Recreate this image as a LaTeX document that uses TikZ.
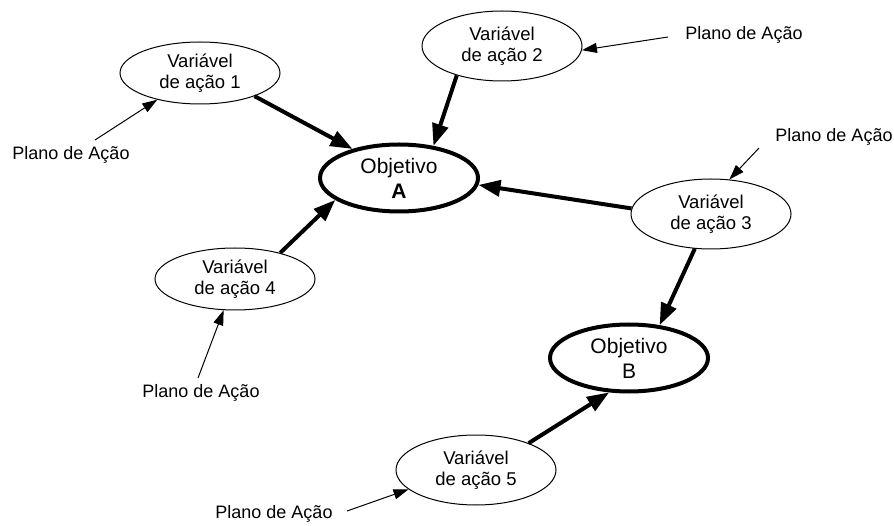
\documentclass[tikz,border=0pt]{standalone}
\usepackage{fontspec}
\setmainfont{Liberation Sans}
\usetikzlibrary{arrows.meta, shapes.geometric}

\begin{document}
\begin{tikzpicture}[x=1pt, y=-1pt,
variavel/.style={ellipse, draw, line width=1pt, minimum width=160pt, minimum height=70pt,
  inner sep=0pt, align=center, font=\fontsize{18.5}{21}\selectfont},
objetivo/.style={ellipse, draw, line width=4pt, minimum width=158pt, minimum height=67pt,
  inner sep=0pt, align=center, font=\fontsize{21}{25}\selectfont},
plano/.style={inner sep=0pt, font=\fontsize{18}{21}\selectfont},
fraca/.style={-{Triangle[length=15pt, width=10pt]}, line width=1pt},
forte/.style={-{Triangle[length=22pt, width=16pt]}, line width=4pt}]
\useasboundingbox (0,0) rectangle (894,526);

% objetivos
\node[objetivo] (objA) at (399,178) {Objetivo\\\textbf{A}};
\node[objetivo] (objB) at (629,358) {Objetivo\\B};

% variaveis de acao
\node[variavel, minimum height=62pt] (var1) at (200,73) {Variável\\de ação 1};
\node[variavel] (var2) at (502,46) {Variável\\de ação 2};
\node[variavel] (var3) at (711,214) {Variável\\de ação 3};
\node[variavel, minimum height=62pt] (var4) at (235,279) {Variável\\de ação 4};
\node[variavel] (var5) at (476,470) {Variável\\de ação 5};

% planos de acao
\node[plano] (plano1) at (71,155) {Plano de Ação};
\node[plano] (plano2) at (744,35) {Plano de Ação};
\node[plano] (plano3) at (834,137) {Plano de Ação};
\node[plano] (plano4) at (201,393) {Plano de Ação};
\node[plano] (plano5) at (274,514) {Plano de Ação};

\coordinate (ini1) at (95,140);
\coordinate (ini2) at (668,37);
\coordinate (ini3) at (759,148);
\coordinate (ini4) at (198,378);
\coordinate (ini5) at (347,511);

\draw[fraca] (ini1) -- (var1.212);
\draw[fraca] (ini2) -- (var2.-3);
\draw[fraca] (ini3) -- (var3.62);
\draw[fraca] (ini4) -- (var4.250);
\draw[fraca] (ini5) -- (var5.196);

\draw[forte] (var1.-23) -- (objA.148);
\draw[forte] (var2.213) -- (objA.43);
\draw[forte] (var3.176) -- (objA.-5);
\draw[forte] (var4.30) -- (objA.199);
\draw[forte] (var3.245) -- (objB.47);
\draw[forte] (var5.27) -- (objB.240);

\end{tikzpicture}
\end{document}
